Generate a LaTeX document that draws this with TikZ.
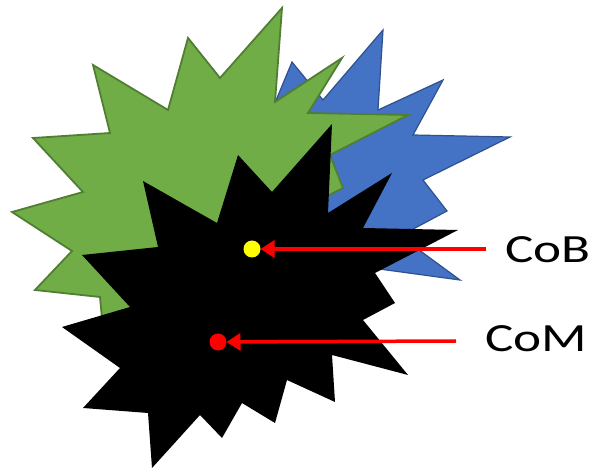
\documentclass[tikz,border=0pt]{standalone}
\usepackage{fontspec}
\setmainfont{Carlito}
\usetikzlibrary{arrows.meta}
\definecolor{gfill}{RGB}{112,173,71}
\definecolor{gline}{RGB}{80,126,50}
\definecolor{bfill}{RGB}{68,114,196}
\definecolor{bline}{RGB}{47,82,143}
\definecolor{dotyellow}{RGB}{255,255,0}
\definecolor{redc}{RGB}{255,0,0}
\tikzset{
  greenstar/.style={fill=gfill,draw=gline,line width=1.8pt,line join=miter},
  bluestar/.style={fill=bfill,draw=bline,line width=1.2pt,line join=miter},
  blackstar/.style={fill=black},
  centerdot/.style={circle,inner sep=0pt,outer sep=0pt,minimum size=17pt},
  pointer/.style={draw=redc,line width=3.5pt,-{Triangle[length=14pt,width=17pt]}},
  lbl/.style={anchor=west,inner sep=0pt,font=\fontsize{40}{42}\selectfont}
}
\begin{document}
\begin{tikzpicture}[x=1pt,y=-1pt]
\useasboundingbox[fill=white] (0,0) rectangle (595,470);
% blue star
\path[bluestar] (292,62) -- (323,100) -- (383,30) -- (378,110) -- (443,80) -- (413,135)
  -- (510,137) -- (423,180) -- (447,211) -- (400,236) -- (460,280) -- (372,268)
  -- (355,320) -- (320,250) -- (300,150) -- (272,110) -- cycle;
% green star
\path[greenstar] (282,8) -- (220,78) -- (188,38) -- (168,110) -- (93,65) -- (110,133)
  -- (33,138) -- (83,192) -- (12,212) -- (72,251) -- (35,290) -- (100,297)
  -- (104,340) -- (170,300) -- (220,330) -- (250,270) -- (300,290) -- (300,210)
  -- (343,188) -- (330,155) -- (408,115) -- (308,113) -- (342,58) -- (275,102) -- cycle;
% black star
\path[blackstar] (62,327) -- (130,307) -- (82,255) -- (158,247) -- (143,181) -- (217,223)
  -- (238,155) -- (272,192) -- (332,124) -- (328,213) -- (392,173) -- (363,228)
  -- (458,230) -- (375,273) -- (395,303) -- (363,320) -- (408,375) -- (332,355)
  -- (335,402) -- (287,380) -- (275,423) -- (242,403) -- (222,438) -- (200,415)
  -- (152,468) -- (148,413) -- (83,408) -- (120,368) -- cycle;
% centres
\node[centerdot,fill=dotyellow] (cob) at (252,249) {};
\node[centerdot,fill=redc] (com) at (218,342) {};
% labels
\node[lbl] (coblabel) at (505,250) {\scalebox{1.33}[1]{CoB}};
\node[lbl] (comlabel) at (485,339) {\scalebox{1.33}[1]{CoM}};
\coordinate (cobstart) at (486,249);
\coordinate (comstart) at (456,341);
\draw[pointer] (cobstart) -- (cob);
\draw[pointer] (comstart) -- (com);
\end{tikzpicture}
\end{document}
